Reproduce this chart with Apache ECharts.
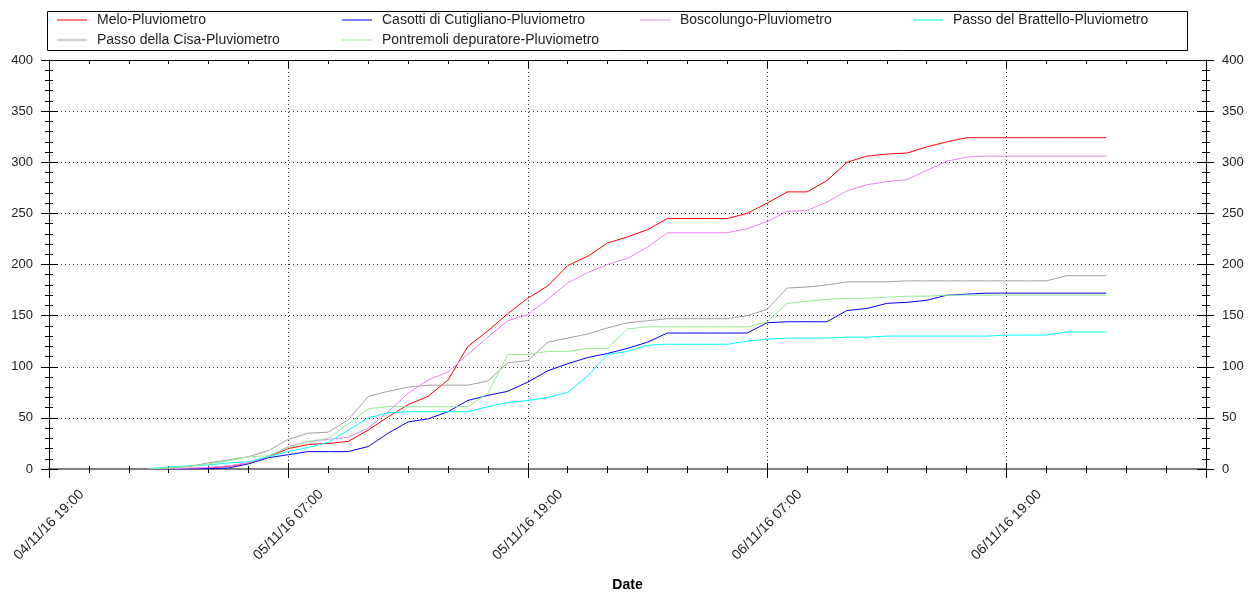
<!DOCTYPE html>
<html>
<head>
<meta charset="utf-8">
<script src="https://cdn.jsdelivr.net/npm/echarts@6/dist/echarts.min.js"></script>
<style>
html,body{margin:0;padding:0;background:#fff;}
#chart{width:1255px;height:593px;}
</style>
</head>
<body>
<div id="chart"></div>
<script>
// Hourly samples from 05/11/16 00:00 to 07/11/16 00:00
const startLabel = '05/11/16 00:00';
const seriesNames = ['Melo-Pluviometro','Casotti di Cutigliano-Pluviometro','Boscolungo-Pluviometro','Passo del Brattello-Pluviometro','Passo della Cisa-Pluviometro','Pontremoli depuratore-Pluviometro'];
const seriesColors = ['#ff0000','#0000ff','#ee82ee','#00ffff','#a0a0a0','#90ee90'];

const melo = [0,0.3,0.5,1,2.5,6,12,20,24,25,27,38,51,63,71,87,120,135,152,167,179,199,208,221,227,234,245,245,245,245,250,260,271,271,282,300,306,308,309,315,320,324,324,324,324,324,324,324,324];
const casotti = [0,0,0,0.3,1,5,11,14,17,17,17,22,35,46,49,56,67,72,76,85,96,103,109,113,118,124,133,133,133,133,133,143,144,144,144,155,157,162,163,165,170,171,172,172,172,172,172,172,172];
const boscolungo = [0,0.3,0.8,1.5,3,6,12,22,27,29,31,40,56,74,87,95,112,129,145,151,166,182,192,200,206,217,231,231,231,231,235,242,252,253,261,272,278,281,283,292,301,305,306,306,306,306,306,306,306];
const brattello = [0.5,2,3,4,6,7,12,17,21,26,38,50,55,56,56,56,56,61,65,67,70,75,91,112,115,121,122,122,122,122,125,127,128,128,128,129,129,130,130,130,130,130,130,131,131,131,134,134,134];
const cisa = [0,1,2.5,6,9,12,18,29,35,36,48,71,76,80,82,82,82,86,104,106,124,128,132,138,143,145,147,147,147,147,150,156,177,178,180,183,183,183,184,184,184,184,184,184,184,184,189,189,189];
const pontremoli = [0,1,2.5,5,8,12,13,21,27,30,44,59,61,61,61,61,61,74,112,112,115,115,118,118,137,139,139,139,139,139,139,144,162,164,166,167,167,168,169,169,170,170,170,170,170,170,170,170,170];

const yTicks = [0,50,100,150,200,250,300,350,400];

// x values: hours counted from 04/11/16 07:00 (UTC arithmetic)
const baseMs = Date.UTC(2016,10,4,7);
const firstHour = 17; // 05/11/16 00:00
const xMin = 12, xMax = 70; // 04/11/16 19:00 .. 07/11/16 05:00

function pad(n){return (n<10?'0':'')+n;}
function fmt(h){
  const d = new Date(baseMs + h*3600000);
  return pad(d.getUTCDate())+'/'+pad(d.getUTCMonth()+1)+'/'+String(d.getUTCFullYear()).slice(2)+' '+pad(d.getUTCHours())+':'+pad(d.getUTCMinutes());
}
function toPairs(arr){ return arr.map((v,i)=>[firstHour+i, v]); }

const allData = [melo, casotti, boscolungo, brattello, cisa, pontremoli];

const chart = echarts.init(document.getElementById('chart'), null, {renderer:'canvas'});

const baseX = {type:'value', min:xMin, max:xMax, gridIndex:0};
const baseY = {type:'value', min:0, max:400, interval:50, gridIndex:0};

const xAxes = [
  Object.assign({}, baseX, {
    position:'bottom', interval:12,
    axisLine:{show:true, lineStyle:{color:'#808080', width:2}},
    axisTick:{show:true, length:9, lineStyle:{color:'#000', width:1}},
    axisLabel:{show:true, rotate:45, align:'center', verticalAlign:'middle', margin:56,
      fontFamily:'Liberation Sans, Arial, sans-serif', fontSize:14, color:'#222',
      formatter:function(v){ if(((v-xMin)%12)!==0 || v>=xMax) return ''; return fmt(v);} },
    splitLine:{show:true, lineStyle:{type:[1,3], color:'#333', width:1}},
    name:'Date', nameLocation:'middle', nameGap:109,
    nameTextStyle:{fontFamily:'Liberation Sans, Arial, sans-serif', fontSize:14, fontWeight:'bold', color:'#000'}
  }),
  Object.assign({}, baseX, {position:'bottom', interval:12, axisLine:{show:false},
    axisTick:{show:true, inside:true, length:6, lineStyle:{color:'#000'}}, axisLabel:{show:false}, splitLine:{show:false}}),
  Object.assign({}, baseX, {position:'bottom', interval:2, axisLine:{show:false},
    axisTick:{show:true, length:4, lineStyle:{color:'#000'}}, axisLabel:{show:false}, splitLine:{show:false}}),
  Object.assign({}, baseX, {position:'bottom', interval:2, axisLine:{show:false},
    axisTick:{show:true, inside:true, length:3, lineStyle:{color:'#000'}}, axisLabel:{show:false}, splitLine:{show:false}}),
  Object.assign({}, baseX, {position:'top', interval:12,
    axisLine:{show:true, lineStyle:{color:'#000', width:1}},
    axisTick:{show:true, inside:true, length:8, lineStyle:{color:'#000'}}, axisLabel:{show:false}, splitLine:{show:false}}),
  Object.assign({}, baseX, {position:'top', interval:2, axisLine:{show:false},
    axisTick:{show:true, inside:true, length:4, lineStyle:{color:'#000'}}, axisLabel:{show:false}, splitLine:{show:false}})
];

const yLabelStyle = {fontFamily:'Liberation Sans, Arial, sans-serif', fontSize:13, color:'#222', margin:16};
const yAxes = [
  Object.assign({}, baseY, {position:'left',
    axisLine:{show:true, lineStyle:{color:'#000', width:1}},
    axisTick:{show:true, length:8, lineStyle:{color:'#000'}},
    minorTick:{show:true, splitNumber:5, length:4, lineStyle:{color:'#000'}},
    axisLabel:Object.assign({show:true, formatter:v=>yTicks.includes(v)?String(v):''}, yLabelStyle),
    splitLine:{show:true, lineStyle:{type:[1,3], color:'#333', width:1}}}),
  Object.assign({}, baseY, {position:'left', axisLine:{show:false},
    axisTick:{show:true, inside:true, length:9, lineStyle:{color:'#000'}},
    minorTick:{show:true, splitNumber:5, length:4, lineStyle:{color:'#000'}},
    axisLabel:{show:false}, splitLine:{show:false}}),
  Object.assign({}, baseY, {position:'right',
    axisLine:{show:true, lineStyle:{color:'#000', width:1}},
    axisTick:{show:true, length:8, lineStyle:{color:'#000'}},
    minorTick:{show:true, splitNumber:5, length:4, lineStyle:{color:'#000'}},
    axisLabel:Object.assign({show:true, formatter:v=>yTicks.includes(v)?String(v):''}, yLabelStyle),
    splitLine:{show:false}}),
  Object.assign({}, baseY, {position:'right', axisLine:{show:false},
    axisTick:{show:true, inside:true, length:9, lineStyle:{color:'#000'}},
    minorTick:{show:true, splitNumber:5, length:4, lineStyle:{color:'#000'}},
    axisLabel:{show:false}, splitLine:{show:false}})
];

const legendPos = [
  {left:57, top:13}, {left:342, top:13}, {left:640, top:13}, {left:913, top:13},
  {left:57, top:33}, {left:342, top:33}
];
const legends = seriesNames.map((n,i)=>({
  data:[n], left:legendPos[i].left, top:legendPos[i].top, orient:'horizontal',
  icon:'rect', itemWidth:30, itemHeight:1, padding:0, selectedMode:false,
  textStyle:{fontFamily:'Liberation Sans, Arial, sans-serif', fontSize:14, color:'#222', padding:[0,0,0,5]}
}));

const option = {
  animation:false,
  backgroundColor:'#fff',
  grid:{left:49, right:49, top:60, bottom:124, containLabel:false, outerBoundsMode:'none'},
  legend:legends,
  graphic:[{type:'rect', shape:{x:47.5, y:11.5, width:1140, height:39}, style:{fill:'none', stroke:'#000', lineWidth:1}, silent:true, z:100}],
  xAxis:xAxes,
  yAxis:yAxes,
  series:seriesNames.map((n,i)=>({
    name:n, type:'line', xAxisIndex:0, yAxisIndex:0,
    data:toPairs(allData[i]), showSymbol:false, symbol:'none',
    lineStyle:{color:seriesColors[i], width:1}, itemStyle:{color:seriesColors[i]},
    emphasis:{disabled:true}
  }))
};
chart.setOption(option);
</script>
</body>
</html>
